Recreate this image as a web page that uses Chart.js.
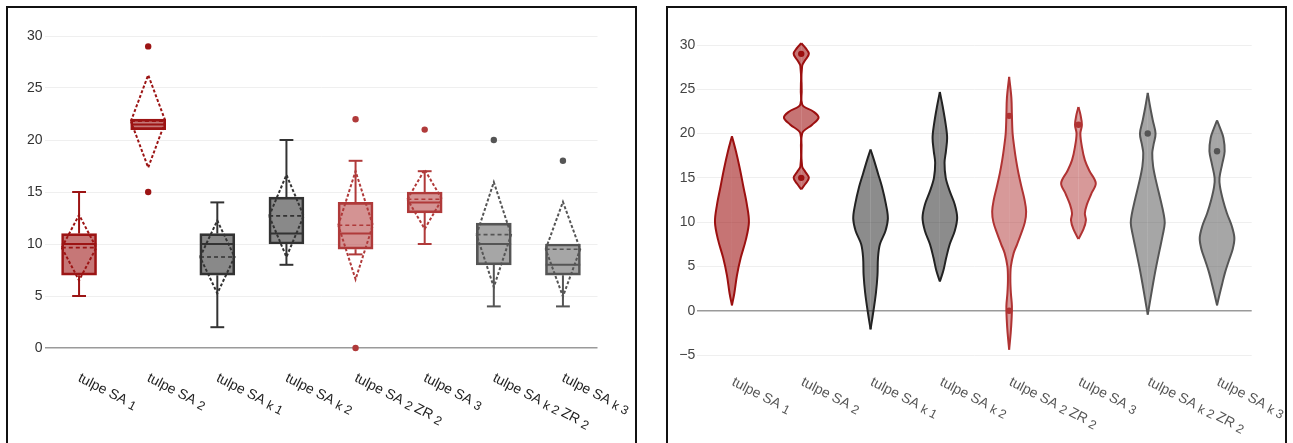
<!DOCTYPE html>
<html>
<head>
<meta charset="utf-8">
<script src="https://cdn.jsdelivr.net/npm/chart.js@4.4.1/dist/chart.umd.min.js"></script>
<style>
body { margin: 0; background: #fff; width: 1293px; height: 443px; overflow: hidden; position: relative; }
.frame { position: absolute; top: 6px; height: 470px; border: 2px solid #111; box-sizing: border-box; }
#boxFrame { left: 6px; width: 631px; }
#violinFrame { left: 666px; width: 621px; }
canvas { display: block; }
</style>
</head>
<body>
<div class="frame" id="boxFrame"><canvas id="boxChart" width="627" height="435"></canvas></div>
<div class="frame" id="violinFrame"><canvas id="violinChart" width="617" height="435"></canvas></div>
<script>
'use strict';

const categories = ['tulpe SA 1', 'tulpe SA 2', 'tulpe SA k 1', 'tulpe SA k 2',
    'tulpe SA 2 ZR 2', 'tulpe SA 3', 'tulpe SA k 2 ZR 2', 'tulpe SA k 3'];

// box plot values
const whiskerLow = [5, 21, 2, 8, 9, 10, 4, 4];
const q1 = [7, 21, 7, 10, 9.5, 13, 8, 7];
const median = [10, 21.5, 10, 11, 11, 14, 10, 8];
const q3 = [11, 22, 11, 14.5, 14, 15, 12, 10];
const whiskerHigh = [15, 22, 14, 20, 18, 17, 12, 10];
const means = [9.65, 21.8, 8.75, 12.7, 11.8, 14.3, 10.9, 9.5];
const stdDevs = [3.15, 4.45, 3.5, 3.95, 5.2, 2.85, 5.05, 4.55];

const outlierCat = [1, 1, 4, 4, 5, 6, 7];
const outlierVal = [29, 15, 22, 0, 21, 20, 18];

// violin density profiles: value levels and relative width (1 = widest)
const violinLevels = [
    [19.7, 18, 16, 14, 12, 10, 8, 6, 4, 2, 0.6],
    [30.2, 29.7, 29, 28.3, 27.6, 23.3, 22.5, 21.8, 21, 20, 16.3, 15.7, 15, 14.3, 13.7],
    [18.2, 17, 15.5, 14, 12, 10.4, 9, 7.5, 6, 4, 2, 0, -1, -2.1],
    [24.7, 23, 21, 19.5, 18, 16.7, 15, 13.5, 12, 10.5, 9, 7.5, 6, 4.5, 3.3],
    [26.4, 24, 22, 20, 18.5, 17, 15.5, 14, 12.5, 11.2, 10, 8.7, 7.5, 6.5, 5, 3.5, 2, 0.5, -1, -2.5, -4.4],
    [23, 22.2, 21, 20, 18.5, 17, 15.8, 14.4, 13.2, 12, 11, 10.2, 9.2, 8.1],
    [24.6, 23, 21.5, 20, 18.8, 17.8, 16.3, 14.8, 12.5, 11, 9.9, 8.5, 6.9, 5, 3.1, 1.5, -0.45],
    [21.5, 20.5, 19.5, 18, 16.5, 15, 14, 12.5, 11, 9.5, 8.2, 7, 5.7, 4.3, 3, 1.8, 0.6]
];
const violinDensity = [
    [0, 0.23, 0.46, 0.66, 0.86, 0.98, 0.8, 0.51, 0.29, 0.14, 0],
    [0, 0.23, 0.44, 0.23, 0.05, 0.05, 0.69, 1, 0.63, 0.05, 0.05, 0.23, 0.44, 0.23, 0],
    [0, 0.2, 0.43, 0.66, 0.89, 1, 0.86, 0.54, 0.43, 0.4, 0.31, 0.17, 0.09, 0],
    [0, 0.17, 0.34, 0.42, 0.35, 0.27, 0.34, 0.57, 0.86, 1, 0.86, 0.57, 0.37, 0.2, 0],
    [0, 0.13, 0.16, 0.2, 0.29, 0.4, 0.54, 0.71, 0.89, 0.98, 0.91, 0.69, 0.46, 0.26, 0.1, 0.07, 0.1, 0.16, 0.14, 0.09, 0],
    [0, 0.11, 0.2, 0.11, 0.2, 0.37, 0.63, 1, 0.74, 0.49, 0.37, 0.43, 0.29, 0],
    [0, 0.14, 0.29, 0.45, 0.34, 0.26, 0.31, 0.46, 0.74, 0.91, 0.98, 0.86, 0.69, 0.49, 0.31, 0.17, 0],
    [0, 0.2, 0.37, 0.44, 0.29, 0.14, 0.17, 0.34, 0.57, 0.86, 1, 0.91, 0.69, 0.46, 0.29, 0.14, 0]
];

const strokeColors = ['#9c1414', '#9c1414', '#333333', '#333333', '#b03a3a', '#b03a3a', '#555555', '#555555'];
const fillColors = ['rgba(156,20,20,0.58)', 'rgba(156,20,20,0.58)', 'rgba(51,51,51,0.58)', 'rgba(51,51,51,0.58)',
    'rgba(176,58,58,0.55)', 'rgba(176,58,58,0.55)', 'rgba(85,85,85,0.52)', 'rgba(85,85,85,0.52)'];
const violinStroke = ['#9c1010', '#9c1010', '#222222', '#222222', '#b03333', '#b03333', '#555555', '#555555'];
const violinFill = ['rgba(156,16,16,0.58)', 'rgba(156,16,16,0.58)', 'rgba(34,34,34,0.52)', 'rgba(34,34,34,0.52)',
    'rgba(176,51,51,0.5)', 'rgba(176,51,51,0.5)', 'rgba(85,85,85,0.52)', 'rgba(85,85,85,0.52)'];

const BOX_HALF = 0.25;
const CAP_HALF = 0.1;
const VIOLIN_HALF = 0.25;
const FONT = "'Liberation Sans', Arial, sans-serif";

// joins polylines into one dataset, null points break the line
function joinSegments(list) {
    const data = [];
    list.forEach(function (seg) {
        seg.forEach(p => data.push({x: p[0], y: p[1]}));
        data.push({x: seg[0][0], y: null});
    });
    return data;
}

function lineSet(list, width, dash, order) {
    const data = joinSegments(list);
    return {
        type: 'line',
        data: data,
        borderWidth: width,
        borderDash: dash,
        borderColor: '#333',
        pointRadius: 0,
        fill: false,
        tension: 0,
        spanGaps: false,
        order: order,
        clip: false,
        segment: {
            borderColor: ctx => strokeColors[Math.round(data[ctx.p0DataIndex].x)]
        }
    };
}

// category labels run down to the right, indices (numbers, k) set as subscripts
const xLabelPlugin = {
    id: 'xLabels',
    afterDraw(chart, args, opts) {
        const {ctx, chartArea} = chart;
        const xScale = chart.scales.x;
        ctx.save();
        ctx.fillStyle = opts.color;
        ctx.textAlign = 'left';
        ctx.textBaseline = 'top';
        categories.forEach(function (label, i) {
            ctx.save();
            ctx.translate(xScale.getPixelForValue(i) + opts.dx, chartArea.bottom + opts.dy);
            ctx.rotate(opts.angle * Math.PI / 180);
            let pos = 0;
            const words = label.split(' ');
            words.forEach(function (word, k) {
                const sub = /^(\d+|k)$/.test(word);
                const txt = k < words.length - 1 ? word + ' ' : word;
                ctx.font = (sub ? opts.subSize : opts.size) + 'px ' + FONT;
                ctx.fillText(txt, pos, sub ? 2.5 : 0);
                pos += ctx.measureText(txt).width;
            });
            ctx.restore();
        });
        ctx.restore();
    }
};

Chart.defaults.font.family = FONT;
Chart.defaults.animation = false;

// ---------- box plot ----------
const medianLines = [], meanLines = [], diamonds = [], whiskers = [];
categories.forEach(function (c, i) {
    medianLines.push([[i - BOX_HALF, median[i]], [i + BOX_HALF, median[i]]]);
    meanLines.push([[i - BOX_HALF, means[i]], [i + BOX_HALF, means[i]]]);
    diamonds.push([[i - BOX_HALF, means[i]], [i, means[i] + stdDevs[i]], [i + BOX_HALF, means[i]],
        [i, means[i] - stdDevs[i]], [i - BOX_HALF, means[i]]]);
    if (whiskerHigh[i] > q3[i]) {
        whiskers.push([[i, q3[i]], [i, whiskerHigh[i]]]);
        whiskers.push([[i - CAP_HALF, whiskerHigh[i]], [i + CAP_HALF, whiskerHigh[i]]]);
    }
    if (whiskerLow[i] < q1[i]) {
        whiskers.push([[i, q1[i]], [i, whiskerLow[i]]]);
        whiskers.push([[i - CAP_HALF, whiskerLow[i]], [i + CAP_HALF, whiskerLow[i]]]);
    }
});

new Chart(document.getElementById('boxChart'), {
    data: {
        datasets: [
            {
                type: 'bar',
                data: categories.map((c, i) => ({x: i, y: [q1[i], q3[i]]})),
                backgroundColor: fillColors,
                borderColor: strokeColors,
                borderWidth: 2,
                borderSkipped: false,
                barThickness: 35,
                order: 10
            },
            lineSet(whiskers, 2, [], 5),
            lineSet(medianLines, 2, [], 4),
            lineSet(meanLines, 1.6, [4, 3], 3),
            lineSet(diamonds, 2, [3, 2], 2),
            {
                type: 'scatter',
                data: outlierCat.map((c, k) => ({x: c, y: outlierVal[k]})),
                pointBackgroundColor: outlierCat.map(c => strokeColors[c]),
                pointBorderWidth: 0,
                pointRadius: 3.2,
                clip: false,
                order: 1
            }
        ]
    },
    options: {
        responsive: false,
        layout: {padding: {left: 0, right: 37.5, top: 28, bottom: 95}},
        scales: {
            x: {type: 'linear', min: -0.5, max: 7.5, offset: false, display: false},
            y: {
                min: 0,
                max: 30,
                ticks: {stepSize: 5, color: '#333', padding: 2, font: {size: 14}},
                grid: {
                    drawTicks: false,
                    color: ctx => ctx.tick && ctx.tick.value === 0 ? '#9a9a9a' : '#efefef',
                    lineWidth: ctx => ctx.tick && ctx.tick.value === 0 ? 1.5 : 1
                },
                border: {display: false},
                afterFit: scale => { scale.width = 36.5; }
            }
        },
        plugins: {
            legend: {display: false},
            tooltip: {enabled: false},
            xLabels: {size: 14, subSize: 12.5, color: '#222', dx: 3, dy: 23, angle: 27}
        }
    },
    plugins: [xLabelPlugin]
});

// ---------- violin plot ----------
const violinSets = [];
categories.forEach(function (c, i) {
    [-1, 1].forEach(function (side) {
        violinSets.push({
            type: 'line',
            indexAxis: 'y',
            data: violinLevels[i].map((v, k) => ({x: i + side * violinDensity[i][k] * VIOLIN_HALF, y: v})).reverse(),
            borderColor: violinStroke[i],
            backgroundColor: violinFill[i],
            borderWidth: 2,
            pointRadius: 0,
            tension: 0.35,
            fill: {value: i},
            clip: false,
            order: 5
        });
    });
});
violinSets.push({
    type: 'scatter',
    data: outlierCat.map((c, k) => ({x: c, y: outlierVal[k]})),
    pointBackgroundColor: outlierCat.map(c => violinStroke[c]),
    pointBorderWidth: 0,
    pointRadius: 3.2,
    clip: false,
    order: 1
});

new Chart(document.getElementById('violinChart'), {
    type: 'line',
    data: {datasets: violinSets},
    options: {
        responsive: false,
        layout: {padding: {left: 0, right: 33.3, top: 37, bottom: 88}},
        scales: {
            x: {type: 'linear', min: -0.5, max: 7.5, offset: false, display: false},
            y: {
                type: 'linear',
                min: -5,
                max: 30,
                ticks: {
                    stepSize: 5, color: '#444', padding: 2, font: {size: 14},
                    callback: v => v < 0 ? '\u2212' + Math.abs(v) : String(v)
                },
                grid: {
                    drawTicks: false,
                    color: ctx => ctx.tick && ctx.tick.value === 0 ? '#9a9a9a' : '#efefef',
                    lineWidth: ctx => ctx.tick && ctx.tick.value === 0 ? 1.5 : 1
                },
                border: {display: false},
                afterFit: scale => { scale.width = 29.3; }
            }
        },
        plugins: {
            legend: {display: false},
            tooltip: {enabled: false},
            xLabels: {size: 14, subSize: 12.5, color: '#555', dx: 4, dy: 20, angle: 27}
        }
    },
    plugins: [xLabelPlugin]
});
</script>
</body>
</html>
